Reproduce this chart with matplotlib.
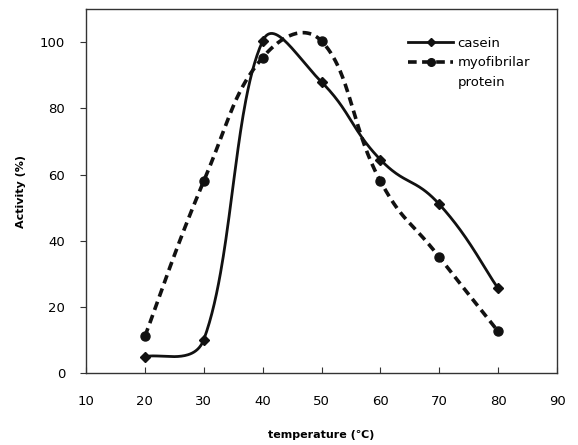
import numpy as np
import matplotlib
matplotlib.use("Agg")
import matplotlib.pyplot as plt
from matplotlib.lines import Line2D

temperature = [20, 30, 40, 50, 60, 70, 80]
casein = [4.8, 10, 100.4, 88, 64.5, 51, 25.5]
myofibrilar = [11, 58, 95.4, 100.4, 58, 35, 12.5]
x_ticks = [10, 20, 30, 40, 50, 60, 70, 80, 90]
y_ticks = [0, 20, 40, 60, 80, 100]

fig = plt.figure(figsize=(5.78, 4.45), dpi=100)
ax = fig.add_axes([0.1488, 0.1625, 0.8149, 0.8165])
ax.set_xlim(10, 90)
ax.set_ylim(0, 110)


def smooth(xs, ys, n=60, k=0.5, cap=0.5):
    # Excel-like smoothed line: Bezier segments through the data points,
    # tangents weighted by on-screen segment lengths
    pts = ax.transData.transform(np.column_stack([xs, ys]))
    m = len(pts)
    tang = np.zeros_like(pts)
    wout = np.full(m, cap)
    win = np.full(m, cap)
    for i in range(m):
        a = pts[max(i - 1, 0)]
        b = pts[min(i + 1, m - 1)]
        tang[i] = b - a
        if 0 < i < m - 1:
            dp = np.hypot(*(pts[i] - pts[i - 1]))
            dn = np.hypot(*(pts[i + 1] - pts[i]))
            wout[i] = min(cap, dn / (dp + dn))
            win[i] = min(cap, dp / (dp + dn))
    t = np.linspace(0, 1, n)[:, None]
    out = []
    for i in range(m - 1):
        p1, p2 = pts[i], pts[i + 1]
        c1 = p1 + tang[i] * wout[i] * k
        c2 = p2 - tang[i + 1] * win[i + 1] * k
        seg = (1 - t) ** 3 * p1 + 3 * (1 - t) ** 2 * t * c1 + 3 * (1 - t) * t ** 2 * c2 + t ** 3 * p2
        out.append(seg)
    out = np.vstack(out)
    data = ax.transData.inverted().transform(out)
    return data[:, 0], data[:, 1]


col = "#111111"
dash = (0, (2.4, 1.5))
sx, sy = smooth(temperature, casein)
ax.plot(sx, sy, color=col, lw=2.0, solid_capstyle="round")
ax.plot(temperature, casein, ls="none", marker="D", ms=5.5, color=col)
mx, my = smooth(temperature, myofibrilar)
ax.plot(mx, my, color=col, lw=2.6, ls=dash)
ax.plot(temperature, myofibrilar, ls="none", marker="o", ms=6.5, color=col)

ax.set_xticks(x_ticks)
ax.set_yticks(y_ticks)
ax.tick_params(axis="x", direction="in", length=4, labelsize=9.5, pad=16, color="#333333")
ax.tick_params(axis="y", direction="out", length=4, labelsize=9.5, pad=11, color="#333333")
for s in ax.spines.values():
    s.set_color("#333333")
    s.set_linewidth(1.0)

ax.set_xlabel("temperature (℃)", fontsize=8, fontweight="bold", labelpad=16)
ax.set_ylabel("Activity (%)", fontsize=8, fontweight="bold", labelpad=10)

handles = [
    Line2D([], [], color=col, lw=2.0, marker="D", ms=4.5),
    Line2D([], [], color=col, lw=2.6, ls=dash, marker="o", ms=5.5),
    Line2D([], [], color="none"),
]
ax.legend(handles, ["casein", "myofibrilar", "protein"], loc="upper left",
          bbox_to_anchor=(0.684, 0.925), frameon=False, fontsize=9.5,
          handlelength=3.4, handletextpad=0.35, labelspacing=0.5,
          borderaxespad=0, borderpad=0)

fig.savefig("out.png", dpi=100)
